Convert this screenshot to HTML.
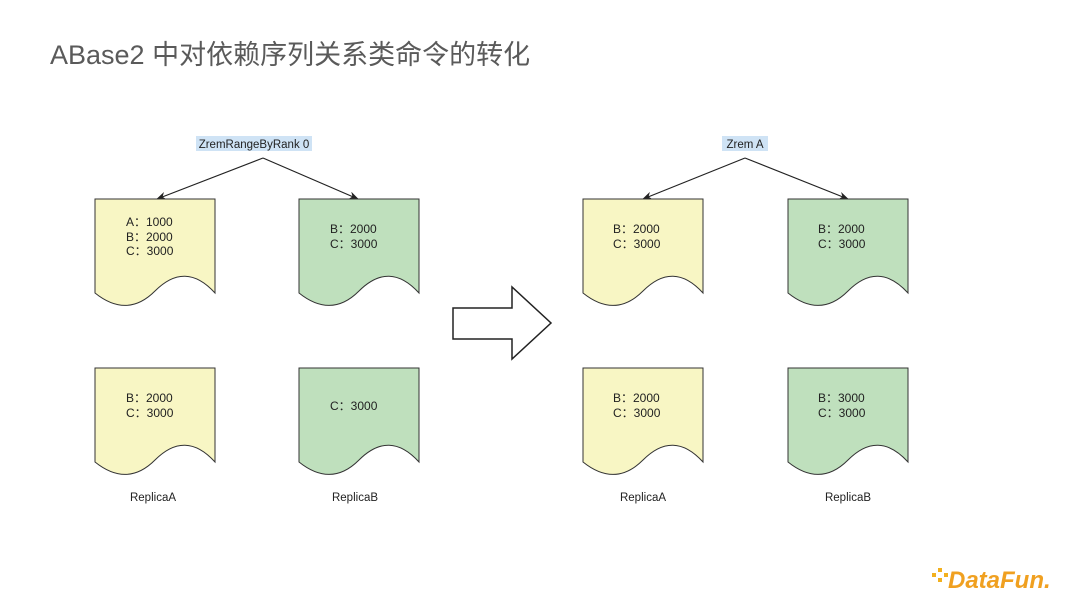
<!DOCTYPE html>
<html><head><meta charset="utf-8"><style>
body{margin:0;width:1080px;height:608px;background:#fff;overflow:hidden;font-family:"Liberation Sans","Noto Sans CJK SC",sans-serif}
</style></head><body>
<svg width="1080" height="608" xmlns="http://www.w3.org/2000/svg" style="position:absolute;left:0;top:0">
<defs>
<marker id="ah" markerWidth="10" markerHeight="10" refX="9" refY="5" orient="auto" markerUnits="userSpaceOnUse">
<path d="M0,1 L10,5 L0,9 L3,5 Z" fill="#222"/></marker>
<path id="doc" d="M0,0 H120 V94 C100,72 80,72 60,92 C40,112 20,110 0,94 Z" stroke="#333" stroke-width="1"/>
</defs>
<text x="50" y="64" font-size="27" fill="#5a5a5a" font-family="Liberation Sans,Noto Sans CJK SC,sans-serif">ABase2 中对依赖序列关系类命令的转化</text>

<rect x="196" y="136" width="116" height="15" fill="#cfe3f5"/>
<text x="254" y="148" font-size="11.5" text-anchor="middle" fill="#222">ZremRangeByRank 0</text>
<rect x="722" y="136" width="46" height="15" fill="#cfe3f5"/>
<text x="745" y="148" font-size="11.5" text-anchor="middle" fill="#222">Zrem A</text>

<g stroke="#222" stroke-width="1.2" fill="none">
<path d="M263,158 L157,199" marker-end="url(#ah)"/>
<path d="M263,158 L358,199" marker-end="url(#ah)"/>
<path d="M745,158 L643,199" marker-end="url(#ah)"/>
<path d="M745,158 L848,199" marker-end="url(#ah)"/>
</g>

<use href="#doc" x="95" y="199" fill="#f8f6c4"/>
<use href="#doc" x="299" y="199" fill="#bfe0bd"/>
<use href="#doc" x="583" y="199" fill="#f8f6c4"/>
<use href="#doc" x="788" y="199" fill="#bfe0bd"/>
<use href="#doc" x="95" y="368" fill="#f8f6c4"/>
<use href="#doc" x="299" y="368" fill="#bfe0bd"/>
<use href="#doc" x="583" y="368" fill="#f8f6c4"/>
<use href="#doc" x="788" y="368" fill="#bfe0bd"/>

<path d="M453,308 H512 V287 L551,323 L512,359 V339 H453 Z" fill="#fff" stroke="#222" stroke-width="1.5"/>

<g font-size="12" fill="#222">
<text x="126" y="226">A：1000</text><text x="126" y="241">B：2000</text><text x="126" y="255">C：3000</text>
<text x="330" y="233">B：2000</text><text x="330" y="248">C：3000</text>
<text x="613" y="233">B：2000</text><text x="613" y="248">C：3000</text>
<text x="818" y="233">B：2000</text><text x="818" y="248">C：3000</text>
<text x="126" y="402">B：2000</text><text x="126" y="417">C：3000</text>
<text x="330" y="410">C：3000</text>
<text x="613" y="402">B：2000</text><text x="613" y="417">C：3000</text>
<text x="818" y="402">B：3000</text><text x="818" y="417">C：3000</text>
</g>
<g font-size="11.5" fill="#222" text-anchor="middle">
<text x="153" y="501">ReplicaA</text><text x="355" y="501">ReplicaB</text>
<text x="643" y="501">ReplicaA</text><text x="848" y="501">ReplicaB</text>
</g>

<g fill="#f2b01e">
<rect x="932" y="573" width="4" height="4"/><rect x="938" y="568" width="4" height="4"/><rect x="938" y="578" width="4" height="4"/><rect x="944" y="573" width="4" height="4"/>
</g>
<text x="948" y="588" font-size="24" font-weight="bold" font-style="italic" fill="#f0a020">DataFun.</text>
</svg>
</body></html>
